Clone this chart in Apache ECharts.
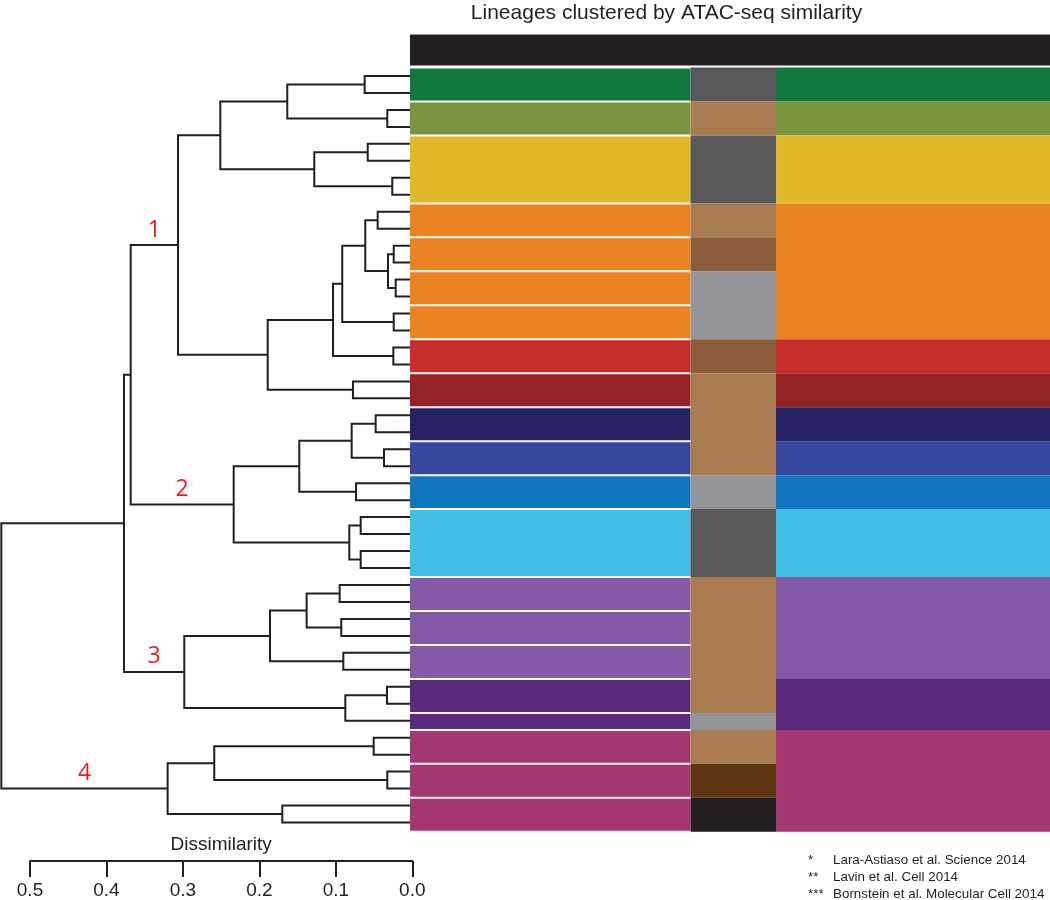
<!DOCTYPE html>
<html><head><meta charset="utf-8">
<script src="https://cdn.jsdelivr.net/npm/echarts@6/dist/echarts.min.js"></script>
<style>html,body{margin:0;padding:0;background:#fff}#c{width:1050px;height:900px}</style>
</head><body><div id="c"></div>
<script>
// ---------------- DATA ----------------
const titleText = 'Lineages clustered by ATAC-seq similarity';
const axisName = 'Dissimilarity';
const axisTicks = [0, 0.1, 0.2, 0.3, 0.4, 0.5];
const leafCount = 45;
// Linkage (ids 0..44 are leaves in plot order, 45+k is merge k)
const mergeLeft  = [0, 2, 45, 4, 6, 48, 47, 8, 10, 12, 53, 52, 14, 56, 16, 58, 18, 60, 51, 20, 22, 64, 24, 66, 26, 28, 69, 68, 63, 30, 32, 74, 34, 76, 36, 79, 78, 73, 39, 41, 83, 43, 85, 82];
const mergeRight = [1, 3, 46, 5, 7, 49, 50, 9, 11, 13, 54, 55, 15, 57, 17, 59, 19, 61, 62, 21, 23, 65, 25, 67, 27, 29, 70, 71, 72, 31, 33, 75, 35, 77, 37, 38, 80, 81, 40, 42, 84, 44, 86, 87];
const mergeHeight = [0.0623, 0.0327, 0.1635, 0.0583, 0.0262, 0.1282, 0.2511, 0.0453, 0.0243, 0.0217, 0.0318, 0.0615, 0.0243, 0.0916, 0.0248, 0.1037, 0.0776, 0.1891, 0.3064, 0.0479, 0.0370, 0.0793, 0.0736, 0.1478, 0.0675, 0.0675, 0.0824, 0.2336, 0.3683, 0.0950, 0.0929, 0.1382, 0.0902, 0.1861, 0.0331, 0.0876, 0.2982, 0.3771, 0.0505, 0.0327, 0.2590, 0.1700, 0.3200, 0.5375];
const clusterLabels = ['1', '2', '3', '4'];
const clusterNodes  = [63, 72, 81, 87];
// Colour bars: number of leaves per block and category key, top to bottom
const col1Counts = [2, 2, 4, 2, 2, 2, 2, 2, 2, 2, 2, 2, 4, 2, 2, 2, 2, 1, 2, 2, 2];
const col1Keys = ['darkGreen', 'olive', 'yellow', 'orange', 'orange', 'orange', 'orange', 'red', 'darkRed', 'navy', 'blue', 'midBlue', 'lightBlue', 'purple', 'purple', 'purple', 'darkPurple', 'darkPurple', 'magenta', 'magenta', 'magenta'];
const col2Counts = [2, 2, 4, 2, 2, 4, 2, 6, 2, 4, 8, 1, 2, 2, 2];
const col2Keys = ['gray', 'tan', 'gray', 'tan', 'brown', 'lightGray', 'brown', 'tan', 'lightGray', 'gray', 'tan', 'lightGray', 'tan', 'darkBrown', 'black'];
const col3Counts = [2, 2, 4, 8, 2, 2, 2, 2, 2, 4, 6, 3, 6];
const col3Keys = ['darkGreen', 'olive', 'yellow', 'orange', 'red', 'darkRed', 'navy', 'blue', 'midBlue', 'lightBlue', 'purple', 'darkPurple', 'magenta'];
const footnoteMarks = ['*', '**', '***'];
const footnoteTexts = ['Lara-Astiaso et al. Science 2014', 'Lavin et al. Cell 2014', 'Bornstein et al. Molecular Cell 2014'];

// ---------------- STYLE ----------------
const INK = '#231f20';
const palette = {
  darkGreen: '#11793e', olive: '#7a953d', yellow: '#e2b82b', orange: '#ea8422',
  red: '#c82e2c', darkRed: '#952326', navy: '#272264', blue: '#35469c',
  midBlue: '#1076bd', lightBlue: '#42bfe6', purple: '#8459a6', darkPurple: '#5a2a7d',
  magenta: '#a53873', gray: '#59595b', tan: '#a87c50', brown: '#8b5d3b',
  lightGray: '#939598', darkBrown: '#5e3614', black: '#231f20'
};
const colFrac = [0, 0.4383, 0.5719, 1];

// ---------------- BUILD ----------------
const nodeY = [], nodeH = [], parentH = {};
for (let i = 0; i < leafCount; i++) { nodeY[i] = i; nodeH[i] = 0; }
mergeLeft.forEach((a, k) => {
  const b = mergeRight[k], id = leafCount + k;
  nodeY[id] = (nodeY[a] + nodeY[b]) / 2;
  nodeH[id] = mergeHeight[k];
  parentH[a] = mergeHeight[k];
  parentH[b] = mergeHeight[k];
});
const dendroData = mergeLeft.map((a, k) => [mergeHeight[k], nodeY[leafCount + k], k]);
const labelData = clusterNodes.map((id, i) => [(nodeH[id] + parentH[id]) / 2, nodeY[id], i]);

const blocks = [];
[[col1Counts, col1Keys], [col2Counts, col2Keys], [col3Counts, col3Keys]].forEach(([counts, keys], col) => {
  let s = 0;
  counts.forEach((c, i) => { blocks.push({ col, start: s, count: c, key: keys[i] }); s += c; });
});

const chart = echarts.init(document.getElementById('c'));
const gridTop = 67.5, gridH = 764.3;
const option = {
  animation: false,
  backgroundColor: '#fff',
  grid: [
    { left: 30, width: 382.3, top: gridTop, height: gridH },
    { left: 410, width: 640, top: gridTop, height: gridH }
  ],
  xAxis: [
    { gridIndex: 0, type: 'value', min: 0, max: 0.5, interval: 0.1, inverse: true, position: 'bottom', offset: 30,
      axisLine: { show: true, onZero: false, lineStyle: { color: INK, width: 2 } },
      axisTick: { show: true, length: 16, lineStyle: { color: INK, width: 2 } },
      axisLabel: { color: INK, fontSize: 19, fontFamily: 'Liberation Sans', margin: 20, formatter: v => v.toFixed(1) },
      splitLine: { show: false },
      name: axisName, nameLocation: 'middle', nameGap: -26,
      nameTextStyle: { color: INK, fontSize: 19, fontFamily: 'Liberation Sans' } },
    { gridIndex: 1, type: 'value', min: 0, max: 1, show: false }
  ],
  yAxis: [
    { gridIndex: 0, type: 'value', min: -0.5, max: leafCount - 0.5, inverse: true, show: false },
    { gridIndex: 1, type: 'value', min: -0.5, max: leafCount - 0.5, inverse: true, show: false }
  ],
  graphic: [
    { type: 'text', x: 666.5, y: 13, style: { text: titleText, fontSize: 21, fontFamily: 'Liberation Sans', fill: INK, align: 'center', verticalAlign: 'middle' } }
  ].concat(footnoteMarks.map((m, i) => ({ type: 'text', x: 808, y: 860 + i * 17, style: { text: m, fontSize: 13.4, fontFamily: 'Liberation Sans', fill: INK, align: 'left', verticalAlign: 'middle' } })))
   .concat(footnoteTexts.map((t, i) => ({ type: 'text', x: 833, y: 860 + i * 17, style: { text: t, fontSize: 13.4, fontFamily: 'Liberation Sans', fill: INK, align: 'left', verticalAlign: 'middle' } }))),
  series: [
    { type: 'custom', xAxisIndex: 0, yAxisIndex: 0, clip: false, silent: true,
      encode: { x: 0, y: 1 }, data: dendroData,
      renderItem: (params, api) => {
        const k = api.value(2);
        const a = mergeLeft[k], b = mergeRight[k], h = mergeHeight[k];
        return { type: 'polyline', shape: { points: [
            api.coord([nodeH[a], nodeY[a]]), api.coord([h, nodeY[a]]),
            api.coord([h, nodeY[b]]), api.coord([nodeH[b], nodeY[b]]) ] },
          style: { stroke: INK, lineWidth: 2, fill: 'none' } };
      } },
    { type: 'custom', xAxisIndex: 0, yAxisIndex: 0, clip: false, silent: true,
      encode: { x: 0, y: 1 }, data: labelData,
      renderItem: (params, api) => {
        const p = api.coord([api.value(0), api.value(1)]);
        return { type: 'text', x: p[0], y: p[1] - 15,
          style: { text: clusterLabels[api.value(2)], fill: '#ed1c24', fontSize: 23, fontFamily: 'Open Sans', align: 'center', verticalAlign: 'middle' } };
      } },
    { type: 'custom', xAxisIndex: 1, yAxisIndex: 1, clip: false, silent: true,
      encode: { x: 0, y: 1 }, data: [[0, 0]],
      renderItem: (params, api) => {
        const cs = params.coordSys;
        return { type: 'rect', shape: { x: cs.x, y: cs.y - 33, width: cs.width, height: 31 }, style: { fill: INK } };
      } },
    { type: 'custom', xAxisIndex: 1, yAxisIndex: 1, clip: false, silent: true,
      encode: { x: 0, y: 1 }, data: blocks.map(b => [0.5, b.start]),
      renderItem: (params, api) => {
        const b = blocks[params.dataIndex];
        const cs = params.coordSys;
        const x0 = cs.x + colFrac[b.col] * cs.width, x1 = cs.x + colFrac[b.col + 1] * cs.width;
        let y0 = api.coord([0, b.start - 0.5])[1], y1 = api.coord([0, b.start + b.count - 0.5])[1];
        if (b.col === 0) { y0 += 1; y1 -= 1; }
        return { type: 'rect', shape: { x: x0, y: y0, width: x1 - x0, height: y1 - y0 }, style: { fill: palette[b.key] } };
      } }
  ]
};
chart.setOption(option);
</script></body></html>
